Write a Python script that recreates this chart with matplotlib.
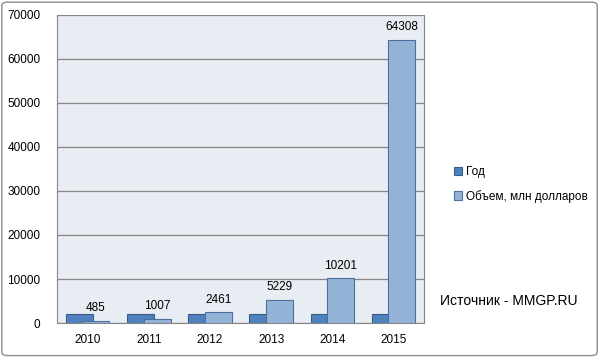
import matplotlib.pyplot as plt
import numpy as np
from matplotlib.patches import FancyBboxPatch

years = ['2010', '2011', '2012', '2013', '2014', '2015']
god = [2010, 2011, 2012, 2013, 2014, 2015]       # ряд "Год"
volume = [485, 1007, 2461, 5229, 10201, 64308]   # млн долларов

plt.rcParams['font.family'] = ['Liberation Sans', 'DejaVu Sans']

fig = plt.figure(figsize=(5.99, 3.57), dpi=100)
ax = fig.add_axes([0.0952, 0.0952, 0.613, 0.863])

x = np.arange(len(years))
w = 0.44
ax.bar(x - 0.135, god, w, color='#4F81BD', edgecolor='#385D8A', linewidth=0.8,
       label='Год', zorder=2)
b = ax.bar(x + 0.135, volume, w, color='#95B3D7', edgecolor='#4A6FA0', linewidth=0.8,
           label='Объем, млн долларов', zorder=3)
for xi, v in zip(x, volume):
    ax.text(xi + 0.135, v + 1500, str(v), ha='center', va='bottom', fontsize=8.5)

ax.set_facecolor('#E8ECF3')
ax.set_xlim(-0.5, 5.5)
ax.set_ylim(0, 70000)
ax.set_yticks(range(0, 70001, 10000))
ax.set_xticks(x)
ax.set_xticklabels(years)
ax.tick_params(length=0, labelsize=8.5, pad=8)
ax.tick_params(axis='y', pad=12)
ax.yaxis.grid(True, color='#868686', linewidth=0.9, zorder=1)
ax.set_axisbelow(True)
for s in ax.spines.values():
    s.set_color('#868686')
ax.spines['top'].set_visible(False)

fig.legend(loc='upper left', bbox_to_anchor=(0.74, 0.565), frameon=False,
           fontsize=8.5, handlelength=0.7, handleheight=0.7, handletextpad=0.3,
           labelspacing=1.0)
fig.text(0.735, 0.145, 'Источник - MMGP.RU', fontsize=10)

fig.patches.append(FancyBboxPatch((0.003, 0.004), 0.994, 0.99,
                                  boxstyle='round,pad=0,rounding_size=0.01',
                                  transform=fig.transFigure, fill=False,
                                  edgecolor='#8C8C8C', linewidth=1))

plt.savefig('out.png', dpi=100)
